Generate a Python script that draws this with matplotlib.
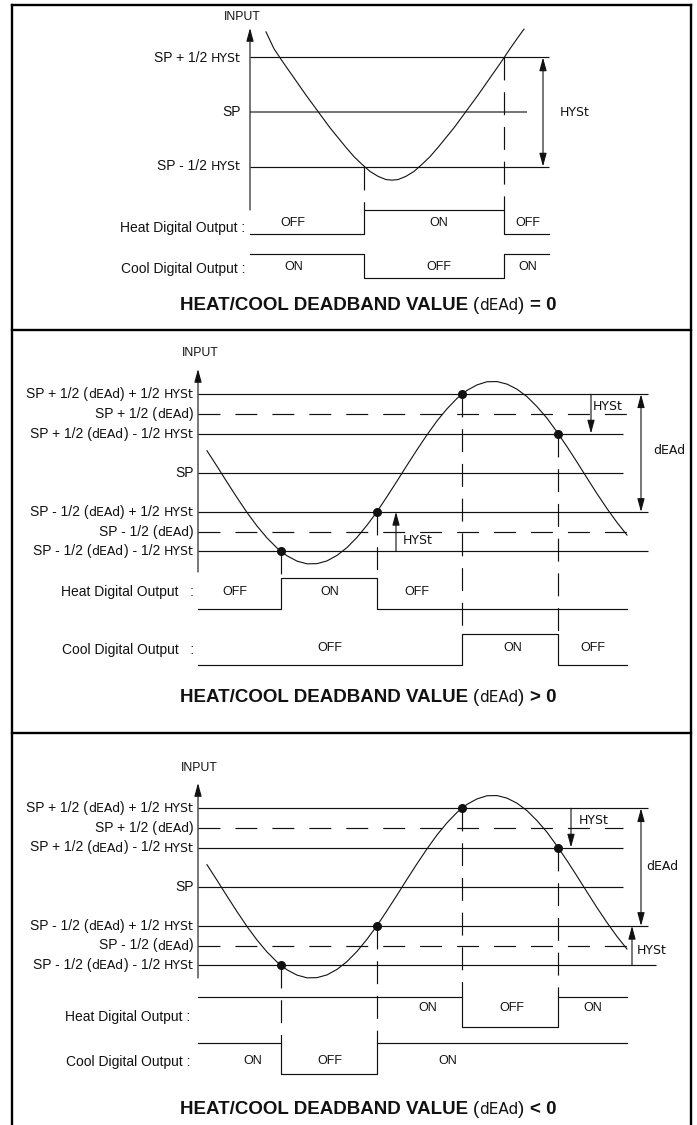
import matplotlib
matplotlib.use("Agg")
import matplotlib.pyplot as plt
from matplotlib.offsetbox import TextArea, HPacker, DrawingArea, AnnotationBbox

plt.rcParams["font.family"] = ["Liberation Sans", "DejaVu Sans"]
plt.rcParams["lines.scale_dashes"] = False

W, H = 697, 1125

# ---------------- data ----------------
# input levels in units of HYSt/2 (HYSt = 2); lower panels use dEAd = 6
eq_levels = [1, 0, -1]
eq_level_labels = [[("SP + 1/2 ", "t"), ("HYSt", "s")],
                   [("SP", "t")],
                   [("SP - 1/2 ", "t"), ("HYSt", "s")]]
eq_t = [1.6, 2.4, 3.2, 4.0, 4.8, 5.6, 6.4, 7.2, 8.0, 8.8, 9.6, 10.4, 11.2, 12.0, 12.8,
        13.6, 14.2, 14.8, 15.6, 16.4, 17.2, 18.0, 18.8, 19.6, 20.4, 21.2, 22.0, 22.8,
        23.6, 24.4, 25.2, 26.0, 26.8, 27.4]
eq_v = [1.47, 1.16, 0.94, 0.73, 0.52, 0.31, 0.11, -0.09, -0.29, -0.47, -0.65, -0.82,
        -0.96, -1.09, -1.18, -1.24, -1.25, -1.24, -1.18, -1.09, -0.96, -0.82, -0.65,
        -0.47, -0.29, -0.09, 0.11, 0.31, 0.52, 0.73, 0.94, 1.16, 1.37, 1.52]
eq_events = [11.4, 25.4]
eq_event_levels = [-1, 1]
eq_end = 29.9
eq_heat, eq_heat_idx = [0, 1, 0], [0, 1]
eq_cool, eq_cool_idx = [1, 0, 1], [0, 1]
eq_heat_text = ["OFF", "ON", "OFF"]
eq_cool_text = ["ON", "OFF", "ON"]
eq_heat_text_t = [4.3, 18.9, 27.8]
eq_cool_text_t = [4.4, 18.9, 27.8]

db_levels = [4, 3, 2, 0, -2, -3, -4]
db_dashed = [False, True, False, False, False, True, False]
db_level_labels = [
    [("SP + 1/2 (", "t"), ("dEAd", "s"), (") + 1/2 ", "t"), ("HYSt", "s")],
    [("SP + 1/2 (", "t"), ("dEAd", "s"), (")", "t")],
    [("SP + 1/2 (", "t"), ("dEAd", "s"), (") - 1/2 ", "t"), ("HYSt", "s")],
    [("SP", "t")],
    [("SP - 1/2 (", "t"), ("dEAd", "s"), (") + 1/2 ", "t"), ("HYSt", "s")],
    [("SP - 1/2 (", "t"), ("dEAd", "s"), (")", "t")],
    [("SP - 1/2 (", "t"), ("dEAd", "s"), (") - 1/2 ", "t"), ("HYSt", "s")],
]
in_t = [0.9, 1.9, 2.9, 3.9, 4.9, 5.9, 6.9, 7.9, 8.9, 9.9, 10.9, 11.9, 12.9, 13.9, 14.9,
        15.9, 16.9, 17.9, 18.9, 19.9, 20.9, 21.9, 22.9, 23.9, 24.9, 25.9, 26.9, 27.9,
        28.9, 29.9, 30.9, 31.9, 32.9, 33.9, 34.9, 35.9, 36.9, 37.9, 38.9, 39.9, 40.9,
        41.9, 42.9]
in_v = [1.12, 0.33, -0.48, -1.27, -2.03, -2.72, -3.33, -3.84, -4.24, -4.51, -4.65, -4.64,
        -4.50, -4.22, -3.82, -3.30, -2.68, -1.99, -1.22, -0.43, 0.38, 1.17, 1.93, 2.64,
        3.26, 3.79, 4.20, 4.48, 4.64, 4.65, 4.52, 4.26, 3.88, 3.37, 2.78, 2.08, 1.33,
        0.54, -0.27, -1.07, -1.83, -2.54, -3.18]
db_events = [8.3, 17.9, 26.4, 36.0]
db_event_levels = [-4, -2, 4, 2]
db_end = 42.9

pos_heat, pos_heat_idx = [0, 1, 0], [0, 1]
pos_cool, pos_cool_idx = [0, 1, 0], [2, 3]
pos_heat_text = ["OFF", "ON", "OFF"]
pos_cool_text = ["OFF", "ON", "OFF"]
pos_heat_text_t = [3.7, 13.2, 21.9]
pos_cool_text_t = [13.2, 31.5, 39.5]

neg_heat, neg_heat_idx = [1, 0, 1], [2, 3]
neg_cool, neg_cool_idx = [1, 0, 1], [0, 1]
neg_heat_text = ["ON", "OFF", "ON"]
neg_cool_text = ["ON", "OFF", "ON"]
neg_heat_text_t = [23.0, 31.4, 39.5]
neg_cool_text_t = [5.5, 13.2, 25.0]

titles = [" = 0", " > 0", " < 0"]

# ---------------- drawing helpers ----------------
LW = 0.85
INK = "#111111"
LEVEL_DASH = (0, (15.8, 10.8))
EVENT_DASH = (0, (16.5, 8.5))

fig = plt.figure(figsize=(W / 100, H / 100), dpi=100)
base = fig.add_axes([0, 0, 1, 1])
base.set_xlim(0, W)
base.set_ylim(H, 0)
base.axis("off")


def make_ax(x0, ysp, sy, sx=10.0):
    ax = fig.add_axes([0, 0, 1, 1])
    ax.set_xlim(-x0 / sx, (W - x0) / sx)
    ax.set_ylim(-(H - ysp) / sy, ysp / sy)
    ax.axis("off")
    ax.patch.set_alpha(0)
    return ax, (lambda px: (px - x0) / sx), (lambda py: (ysp - py) / sy)


def rich(ax, pieces, xy, align=(1, 0.5), size=10, seg=9.0):
    kids = []
    for text, kind in pieces:
        props = dict(color=INK, fontsize=size, fontfamily=["Liberation Sans", "DejaVu Sans"])
        if kind == "s":
            props = dict(color=INK, fontsize=seg, fontfamily="DejaVu Sans")
        if kind == "b":
            props["fontweight"] = "bold"
        core = text.strip()
        if text.startswith(" "):
            kids.append(DrawingArea(size * 0.28, 1))
        if core:
            kids.append(TextArea(core, textprops=props))
        if text.endswith(" ") and core:
            kids.append(DrawingArea(size * 0.28, 1))
    box = HPacker(children=kids, align="baseline", pad=0, sep=0)
    ab = AnnotationBbox(box, xy, xycoords="data", frameon=False, box_alignment=align,
                        pad=0, annotation_clip=False)
    ax.add_artist(ab)


def arrow(ax, t, v_from, v_to, both=False):
    style = "<|-|>" if both else "-|>"
    ax.annotate("", xy=(t, v_to), xytext=(t, v_from), annotation_clip=False,
                arrowprops=dict(arrowstyle=style + ",head_length=0.8,head_width=0.22",
                                color=INK, lw=0.8, shrinkA=0, shrinkB=0, mutation_scale=10))


def draw_panel(lay, levels, dashed, labels, curve_t, curve_v, events, event_levels, dots,
               end, heat, heat_idx, cool, cool_idx, heat_text, heat_text_t,
               cool_text, cool_text_t, title):
    ax, tx, vy = make_ax(lay["x0"], lay["ysp"], lay["sy"])
    # vertical INPUT axis
    arrow(ax, 0, vy(lay["axis"][0]), vy(lay["axis"][1]))
    base.text(lay["input"][0], lay["input"][1], "INPUT", ha="center", va="center",
              fontsize=8.8, color=INK)
    # threshold levels
    for v, d, lab, stop, col in zip(levels, dashed, labels, lay["ends"], lay["colors"]):
        ax.plot([0, tx(stop)], [v, v], color=col, lw=LW if col == INK else 1.3,
                ls=LEVEL_DASH if d else "-", solid_capstyle="butt")
        rich(ax, lab, (tx(lay["x0"] - lay["gap"]), v))
    # input signal
    ax.plot(curve_t, curve_v, color=INK, lw=0.8)
    if dots:
        ax.plot(events, event_levels, "o", color=INK, ms=5.5)
    # digital outputs
    hh, hl = vy(lay["heat"][0]), vy(lay["heat"][1])
    ch, cl = vy(lay["cool"][0]), vy(lay["cool"][1])
    edges_heat = [0] + [events[i] for i in heat_idx] + [end]
    edges_cool = [0] + [events[i] for i in cool_idx] + [end]
    ax.step(edges_heat, [hl + s * (hh - hl) for s in heat + [heat[-1]]], where="post",
            color=INK, lw=LW)
    ax.step(edges_cool, [cl + s * (ch - cl) for s in cool + [cool[-1]]], where="post",
            color=INK, lw=LW)
    # switching instants
    for i, (e, v) in enumerate(zip(events, event_levels)):
        target = hh if i in heat_idx else ch
        ax.plot([e, e], [v, target], color=INK, lw=LW, ls=EVENT_DASH)
    for txt, t in zip(heat_text, heat_text_t):
        ax.text(t, vy(lay["heat_text_y"]), txt, ha="center", va="center", fontsize=9, color=INK)
    for txt, t in zip(cool_text, cool_text_t):
        ax.text(t, vy(lay["cool_text_y"]), txt, ha="center", va="center", fontsize=9, color=INK)
    for txt, yy in zip(["Heat Digital Output" + lay["colon"], "Cool Digital Output" + lay["colon"]],
                       lay["row_label_y"]):
        base.text(lay["row_label_x"], yy, txt, ha="right", va="center", fontsize=10, color=INK)
    # dimension arrows
    for px, v0, v1, both in lay["dims"]:
        arrow(ax, tx(px), v0, v1, both)
    for txt, px, py in lay["seg"]:
        base.text(px, py, txt, ha="center", va="center", fontsize=9,
                  fontfamily="DejaVu Sans", color=INK)
    rich(base, [("HEAT/COOL DEADBAND VALUE ", "b"), ("(", "t"), ("dEAd", "s"), (")", "t"),
                (title, "b")], (lay["title"][0], lay["title"][1]), align=(0.5, 0.5),
         size=13.5, seg=11)
    return ax


# frame
for y in [5, 330, 733]:
    base.plot([11.5, 691], [y, y], color="black", lw=1.7, solid_capstyle="projecting")
for x in [11.5, 691]:
    base.plot([x, x], [5, H + 5], color="black", lw=1.7)

lay_eq = dict(x0=250, ysp=112, sy=54.5, axis=(210, 28), input=(242, 17), gap=9,
              ends=[549, 527, 549], colors=[INK, "#6a6a6a", INK],
              heat=(210, 234), cool=(254, 278), heat_text_y=223, cool_text_y=267,
              row_label_x=245, row_label_y=(228, 269), colon=" :",
              dims=[(543, 1, -1, True)], seg=[("HYSt", 575, 112)], title=(368, 306))
lay_pos = dict(x0=198, ysp=472.7, sy=19.6, axis=(572, 369), input=(200, 353), gap=4,
               ends=[648, 627, 623, 623, 648, 628, 648], colors=[INK] * 7,
               heat=(578, 609), cool=(634, 665), heat_text_y=592, cool_text_y=648,
               row_label_x=194, row_label_y=(592, 650), colon="   :",
               dims=[(591, 4, 2, False), (396, -4, -2, False), (641, 4, -2, True)],
               seg=[("HYSt", 608, 406), ("HYSt", 418, 540), ("dEAd", 669, 451)],
               title=(368, 698))
lay_neg = dict(x0=198, ysp=886.7, sy=19.6, axis=(978, 783), input=(199, 768), gap=4,
               ends=[648, 623, 623, 623, 648, 628, 656], colors=[INK] * 7,
               heat=(996.7, 1026.7), cool=(1043, 1074), heat_text_y=1008, cool_text_y=1061,
               row_label_x=190, row_label_y=(1017, 1062), colon=" :",
               dims=[(571, 4, 2, False), (632, -4, -2, False), (641, 4, -2, True)],
               seg=[("HYSt", 593.5, 820), ("dEAd", 662, 866), ("HYSt", 651.5, 950)],
               title=(368, 1110))

draw_panel(lay_eq, eq_levels, [False] * 3, eq_level_labels, eq_t, eq_v, eq_events,
           eq_event_levels, False, eq_end, eq_heat, eq_heat_idx, eq_cool, eq_cool_idx,
           eq_heat_text, eq_heat_text_t, eq_cool_text, eq_cool_text_t, titles[0])
draw_panel(lay_pos, db_levels, db_dashed, db_level_labels, in_t, in_v, db_events,
           db_event_levels, True, db_end, pos_heat, pos_heat_idx, pos_cool, pos_cool_idx,
           pos_heat_text, pos_heat_text_t, pos_cool_text, pos_cool_text_t, titles[1])
draw_panel(lay_neg, db_levels, db_dashed, db_level_labels, in_t, in_v, db_events,
           db_event_levels, True, db_end, neg_heat, neg_heat_idx, neg_cool, neg_cool_idx,
           neg_heat_text, neg_heat_text_t, neg_cool_text, neg_cool_text_t, titles[2])

fig.savefig("out.png", dpi=100)
